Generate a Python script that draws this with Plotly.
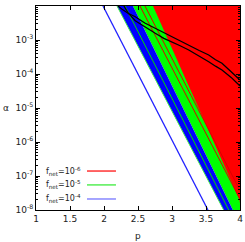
import numpy as np
import plotly.graph_objects as go

# ---- data ----
# straight boundaries in (p, log10 alpha): p at alpha=1e-2 (top) and at alpha=1e-8 (bottom)
LOG_A_TOP, LOG_A_BOT = -2.0, -8.0
thin_blue_line = (1.985, 3.529)
blue_fill_left = (2.191, 3.760)
green_line_in_blue = (2.309, 3.834)
green_fill_left = (2.426, 3.895)
red_line_1 = (2.529, 4.081)
red_line_2 = (2.603, 4.147)
red_fill_left = (2.721, 4.059)

# the two wavy black curves (p, log10 alpha)
black_upper_p = [2.206, 2.265, 2.36, 2.460, 2.60, 2.754, 2.88, 3.0, 3.12, 3.246, 3.40, 3.540, 3.64, 3.735, 3.87, 4.0]
black_upper_la = [-2.0, -2.097, -2.22, -2.315, -2.50, -2.656, -2.80, -2.903, -3.04, -3.147, -3.31, -3.441, -3.58, -3.685, -3.93, -4.176]
black_lower_p = [2.294, 2.36, 2.460, 2.60, 2.754, 2.88, 3.0, 3.12, 3.246, 3.40, 3.540, 3.64, 3.735, 3.87, 4.0]
black_lower_la = [-2.0, -2.22, -2.432, -2.62, -2.803, -2.95, -3.05, -3.17, -3.294, -3.47, -3.638, -3.77, -3.882, -4.10, -4.353]

x_ticks = [1, 1.5, 2, 2.5, 3, 3.5, 4]
x_tick_labels = ["1", "1.5", "2", "2.5", "3", "3.5", "4"]
y_decades = [-8, -7, -6, -5, -4, -3, -2]
legend_labels = ["f<sub>net</sub>=10<sup>-6</sup>", "f<sub>net</sub>=10<sup>-5</sup>", "f<sub>net</sub>=10<sup>-4</sup>"]
legend_colors = ["#ff3333", "#55ee55", "#8888ff"]

P_MIN, P_MAX = 1.0, 4.0

la_grid = np.linspace(LOG_A_TOP, LOG_A_BOT, 61)


def line_p(b, la):
    pt, pb = b
    return pt + (pb - pt) * (la - LOG_A_TOP) / (LOG_A_BOT - LOG_A_TOP)


def region(left, right=None):
    pl = np.minimum(line_p(left, la_grid), P_MAX)
    if right is None:
        pr = np.full_like(la_grid, P_MAX)
    else:
        pr = np.minimum(line_p(right, la_grid), P_MAX)
    xs = np.concatenate([pl, pr[::-1], pl[:1]])
    ys = np.concatenate([la_grid, la_grid[::-1], la_grid[:1]])
    return xs, 10.0 ** ys


fig = go.Figure()

def add_fill(xs, ys, color):
    fig.add_trace(go.Scatter(x=xs, y=ys, mode="lines", fill="toself", fillcolor=color,
                             line=dict(width=0, color=color), hoverinfo="skip", showlegend=False))

def add_line(b, color, width=1.0):
    fig.add_trace(go.Scatter(x=[b[0], b[1]], y=[10 ** LOG_A_TOP, 10 ** LOG_A_BOT], mode="lines",
                             line=dict(color=color, width=width), hoverinfo="skip", showlegend=False))

xs, ys = region(green_fill_left)
add_fill(xs, ys, "#00ff00")
xs, ys = region(blue_fill_left, green_fill_left)
add_fill(xs, ys, "#0000ff")
xs, ys = region(red_fill_left)
add_fill(xs, ys, "#ff0000")

add_line(blue_fill_left, "#44ee44", 1.0)
add_line(green_line_in_blue, "#00dd00", 1.0)
add_line(red_line_1, "#dd0000", 1.0)
add_line(red_line_2, "#dd0000", 1.0)
add_line(thin_blue_line, "#2222ff", 1.3)

fig.add_trace(go.Scatter(x=black_upper_p, y=[10 ** v for v in black_upper_la], mode="lines",
                         line=dict(color="black", width=1.3), hoverinfo="skip", showlegend=False))
fig.add_trace(go.Scatter(x=black_lower_p, y=[10 ** v for v in black_lower_la], mode="lines",
                         line=dict(color="black", width=1.3), hoverinfo="skip", showlegend=False))

tfont = dict(family="DejaVu Sans", size=9, color="#222222")

# manual gnuplot-style legend (text right-aligned, sample to the right)
legend_y = [0.191, 0.123, 0.054]
for lab, col, yy in zip(legend_labels, legend_colors, legend_y):
    fig.add_annotation(xref="paper", yref="paper", x=0.232, y=yy, text=lab, showarrow=False,
                       xanchor="right", yanchor="middle", font=dict(family="DejaVu Sans", size=8, color="#222222"))
    fig.add_shape(type="line", xref="paper", yref="paper", x0=0.25, x1=0.392, y0=yy, y1=yy,
                  line=dict(color=col, width=1.5))

# axis titles
fig.add_annotation(xref="paper", yref="paper", x=-0.145, y=0.5, text="α", showarrow=False,
                   xanchor="center", yanchor="middle", font=tfont)
fig.add_annotation(xref="paper", yref="paper", x=0.5, y=-0.125, text="p", showarrow=False,
                   xanchor="center", yanchor="middle", font=tfont)

fig.update_layout(
    width=245, height=242,
    margin=dict(l=36, r=5, t=6, b=32),
    paper_bgcolor="white", plot_bgcolor="white",
    font=tfont,
    showlegend=False,
    xaxis=dict(range=[P_MIN, P_MAX], tickvals=x_ticks, ticktext=x_tick_labels, automargin=False,
               ticks="inside", ticklen=4, tickcolor="black", showline=True, linecolor="black",
               linewidth=1, mirror="ticks", showgrid=False, zeroline=False, tickfont=tfont),
    yaxis=dict(type="log", range=[-8, -2], tickvals=[10.0 ** d for d in y_decades],
               ticktext=["10<sup>%d</sup>" % d for d in y_decades], automargin=False,
               ticks="inside", ticklen=4, tickcolor="black", showline=True, linecolor="black",
               linewidth=1, mirror="ticks", showgrid=False, zeroline=False, tickfont=tfont,
               minor=dict(ticks="inside", ticklen=2, tickcolor="black", dtick="D1", showgrid=False)),
)

fig.write_html("out.html", config={"displayModeBar": False, "staticPlot": True},
               post_script="document.body.style.margin='0px';")
